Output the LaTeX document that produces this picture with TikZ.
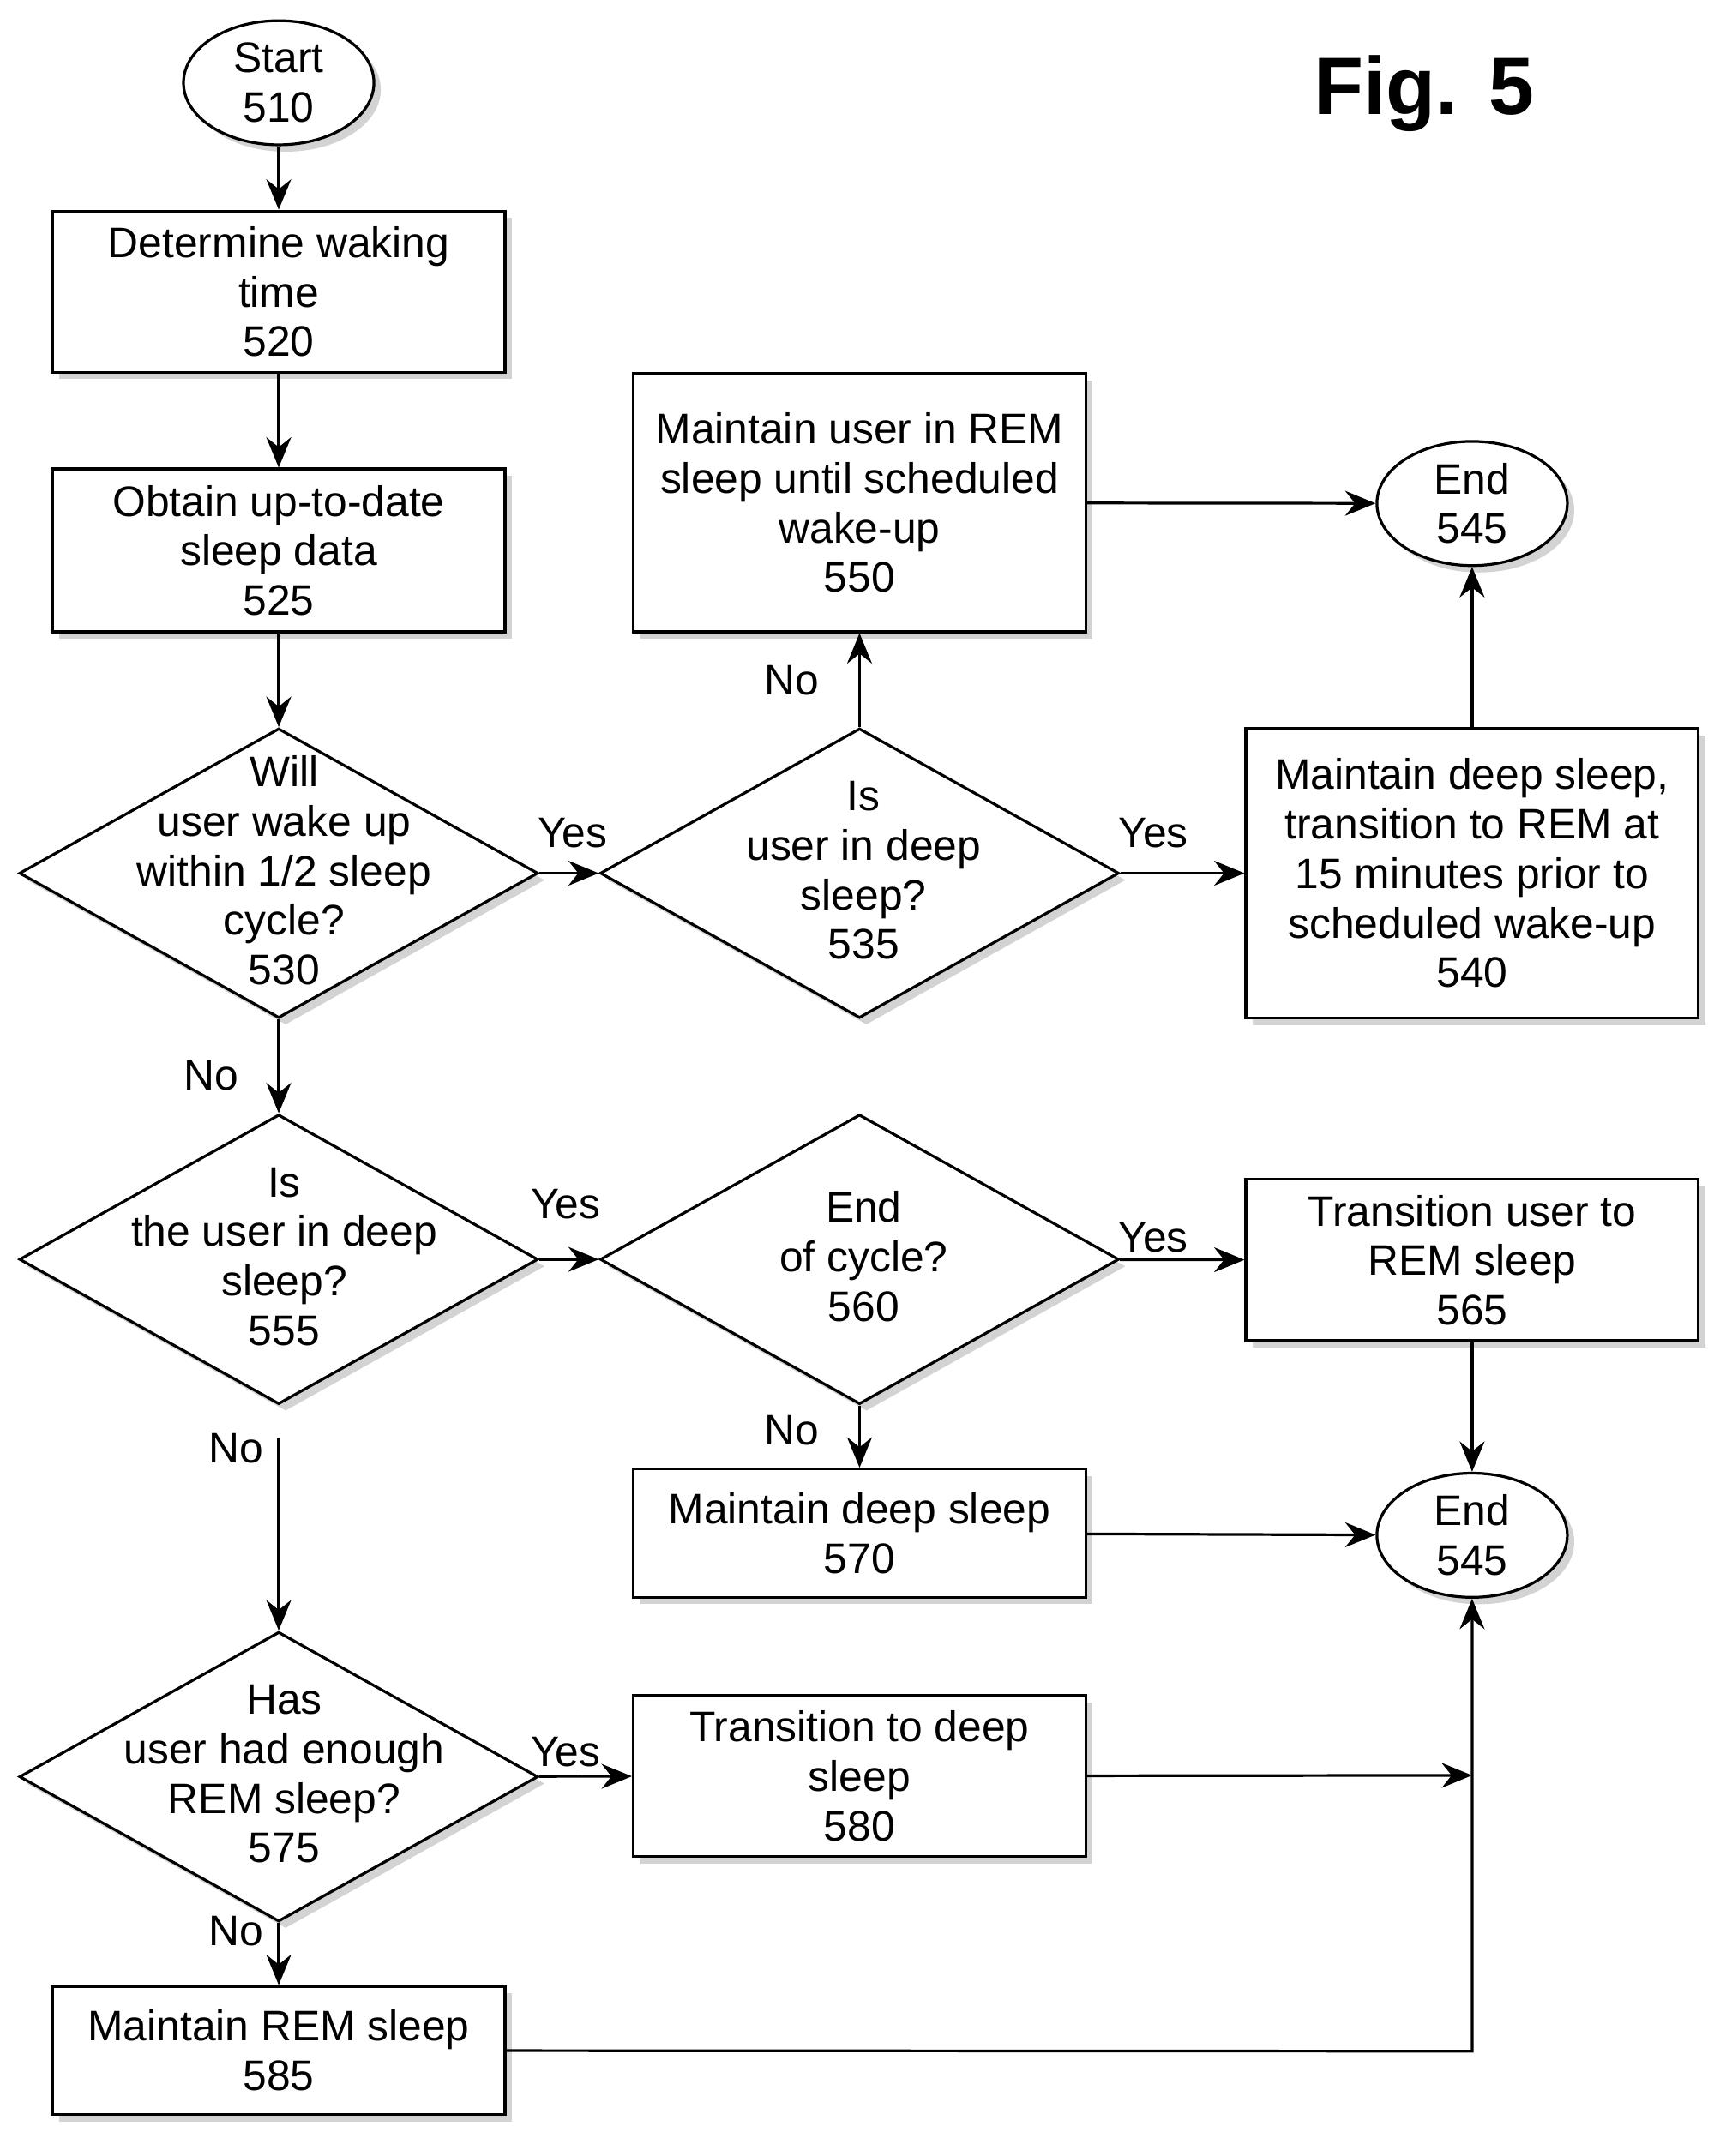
\documentclass[tikz,border=0pt]{standalone}
\usepackage{fontspec}
\setmainfont{Liberation Sans}
\usetikzlibrary{shapes.geometric,shadows,arrows.meta}
\begin{document}
\begin{tikzpicture}[x=0.05cm,y=-0.05cm,
  every node/.style={font=\fontsize{44}{51}\selectfont,align=center},
  sh/.style={drop shadow={shadow xshift=0.25cm,shadow yshift=-0.25cm,opacity=0.35,fill=gray}},
  box/.style={draw,line width=0.1cm,fill=white,sh,minimum width=16.4cm,inner sep=0},
  dia/.style={draw,diamond,line width=0.1cm,fill=white,sh,minimum width=18.8cm,minimum height=10.5cm,inner sep=0},
  ell/.style={draw,ellipse,line width=0.1cm,fill=white,sh,minimum width=6.9cm,minimum height=4.5cm,inner sep=0},
  ar/.style={line width=0.1cm,-{Stealth[length=1.1cm,width=0.9cm]}},
  lab/.style={inner sep=0}]
\useasboundingbox (0,0) rectangle (1251,1563);
\node[ell] (s) at (202,60) {Start\\510};
\node[box,minimum height=5.85cm] (b520) at (202,211.5) {Determine waking\\time\\520};
\node[box,minimum height=5.9cm] (b525) at (202,399) {Obtain up-to-date\\sleep data\\525};
\node[dia] (d530) at (202,633) {};
\node (t530) at (206,631) {Will\\user wake up\\within 1/2 sleep\\cycle?\\530};
\node[dia] (d535) at (623,633) {};
\node (t535) at (626,631) {Is\\user in deep\\sleep?\\535};
\node[box,minimum height=9.35cm] (b550) at (623,364.5) {Maintain user in REM\\sleep until scheduled\\wake-up\\550};
\node[ell] (e1) at (1067,365) {End\\545};
\node[box,minimum height=10.5cm] (b540) at (1067,633) {Maintain deep sleep,\\transition to REM at\\15 minutes prior to\\scheduled wake-up\\540};
\node[dia] (d555) at (202,913) {};
\node (t555) at (206,911) {Is\\the user in deep\\sleep?\\555};
\node[dia] (d560) at (623,913) {};
\node (t560) at (626,911) {End\\of cycle?\\560};
\node[box,minimum height=5.85cm] (b565) at (1067,913.5) {Transition user to\\REM sleep\\565};
\node[box,minimum height=4.65cm] (b570) at (623,1111.5) {Maintain deep sleep\\570};
\node[ell] (e2) at (1067,1113) {End\\545};
\node[dia] (d575) at (202,1288) {};
\node (t575) at (206,1286) {Has\\user had enough\\REM sleep?\\575};
\node[box,minimum height=5.85cm] (b580) at (623,1287.5) {Transition to deep\\sleep\\580};
\node[box,minimum height=4.65cm] (b585) at (202,1486.5) {Maintain REM sleep\\585};
\node[font=\fontsize{84}{90}\selectfont\bfseries] (fig) at (1032,68) {Fig. 5};
\coordinate (c1) at (202,1043);
\coordinate (c2) at (1067,1287);
\coordinate (c3) at (1067,1487);
\node[lab] (y1) at (415,604) {Yes};
\node[lab] (n1) at (574,493) {No};
\node[lab] (y2) at (836,604) {Yes};
\node[lab] (n2) at (153,780) {No};
\node[lab] (y3) at (410,873) {Yes};
\node[lab] (y4) at (836,897) {Yes};
\node[lab] (n3) at (574,1037) {No};
\node[lab] (n4) at (171,1050) {No};
\node[lab] (y5) at (410,1270) {Yes};
\node[lab] (n5) at (171,1400) {No};
\draw[ar] (s) -- (b520);
\draw[ar] (b520) -- (b525);
\draw[ar] (b525) -- (d530);
\draw[ar] (d530) -- (d535);
\draw[ar] (d535) -- (b550);
\draw[ar] (d535) -- (b540);
\draw[ar] (b550) -- (e1);
\draw[ar] (b540) -- (e1);
\draw[ar] (d530) -- (d555);
\draw[ar] (d555) -- (d560);
\draw[ar] (d560) -- (b565);
\draw[ar] (d560) -- (b570);
\draw[ar] (b565) -- (e2);
\draw[ar] (b570) -- (e2);
\draw[ar] (c1) -- (d575);
\draw[ar] (d575) -- (b580);
\draw[ar] (b580) -- (c2);
\draw[ar] (d575) -- (b585);
\draw[ar] (b585) -- (c3) -- (e2);
\end{tikzpicture}
\end{document}
